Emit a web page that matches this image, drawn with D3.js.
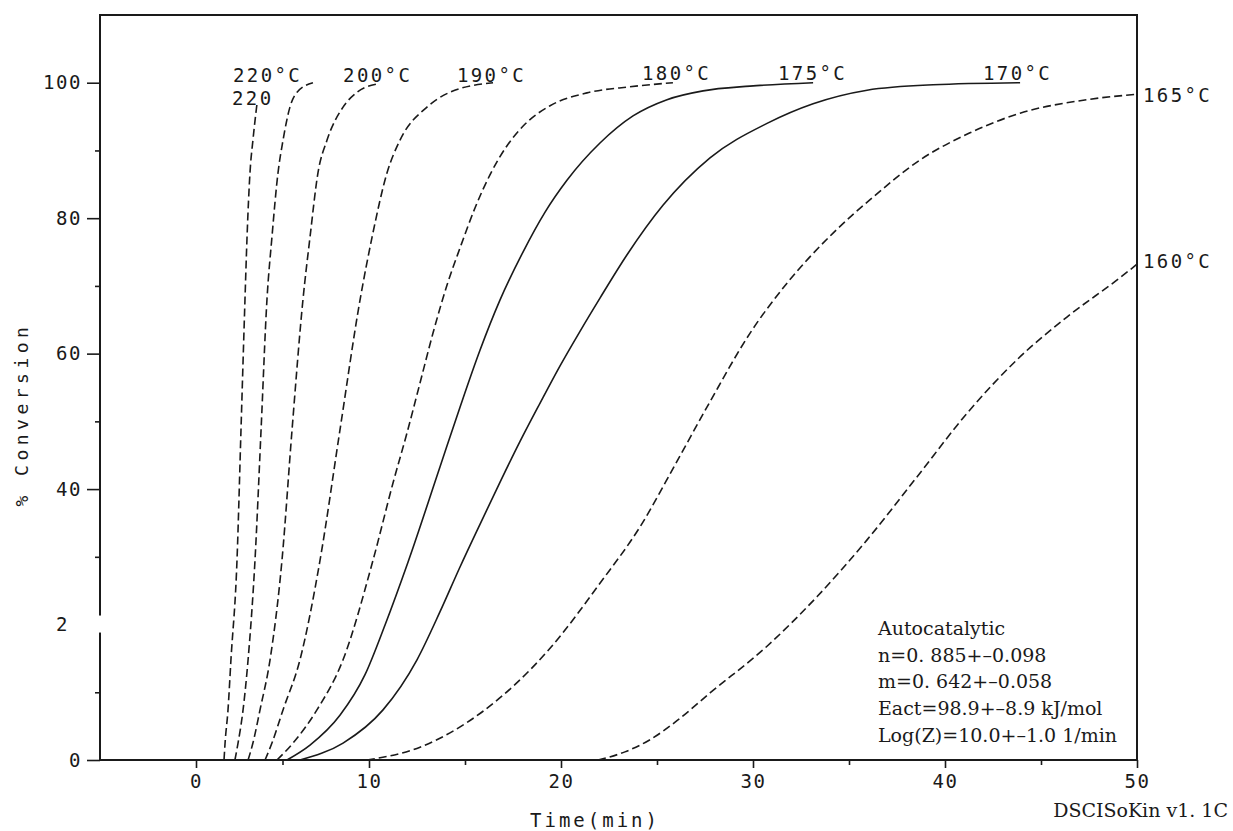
<!DOCTYPE html>
<meta charset="utf-8">
<style>
body {margin: 0; background: #fff;}
text {fill: #1a1a1a;}
.plotter {font-family: "DejaVu Sans Mono", monospace;}
.serif {font-family: "DejaVu Serif", "Liberation Serif", serif; font-size: 19px;}
</style>
<html>
<body>
<script src="https://d3js.org/d3.v7.min.js"></script>
<script>
var width = 1233,
    height = 831;

// isothermal runs, time in min and % conversion
var time220a = [1.62, 1.68, 1.85, 2.02, 2.37, 2.60, 2.83, 2.95, 3.12, 3.29, 3.53];
var conv220a = [0, 2.5, 7.4, 14.8, 29.5, 48.7, 67.9, 77.2, 86.7, 91.5, 97.0];

var time220 = [2.25, 2.43, 2.72, 3.01, 3.41, 3.76, 4.10, 4.39, 4.74, 5.03, 5.43, 5.84, 6.76];
var conv220 = [0, 2.5, 7.4, 14.8, 29.5, 48.7, 67.9, 77.2, 86.7, 91.5, 96.4, 98.6, 100.0];

var time200 = [3.01, 3.29, 3.70, 4.28, 4.97, 5.55, 6.18, 6.59, 7.05, 7.57, 8.50, 9.31, 10.42];
var conv200 = [0, 2.5, 7.4, 14.8, 29.5, 48.7, 67.9, 77.2, 86.7, 91.5, 96.4, 98.6, 99.8];

var time190 = [3.99, 4.39, 5.03, 6.01, 7.17, 8.32, 9.48, 10.16, 10.94, 11.61, 13.02, 14.22, 16.46];
var conv190 = [0, 2.5, 7.4, 14.8, 29.5, 48.7, 67.9, 77.2, 86.7, 91.5, 96.4, 98.6, 100.0];

var time180 = [4.68, 5.61, 6.99, 8.50, 10.21, 11.25, 11.98, 12.66, 13.33, 14.06, 14.74, 15.52, 16.30, 17.19, 18.13, 19.43, 21.35, 23.59, 25.83];
var conv180 = [0, 2.5, 7.4, 14.8, 29.5, 40.9, 48.3, 55.7, 63.0, 70.1, 75.6, 81.5, 86.4, 90.7, 93.9, 96.6, 98.5, 99.4, 100.0];

var time175 = [5.26, 6.59, 8.32, 9.77, 10.83, 12.03, 13.70, 14.74, 15.78, 16.82, 18.02, 19.17, 20.31, 22.03, 23.75, 25.52, 27.40, 29.84, 33.13];
var conv175 = [0, 2.2, 6.6, 12.6, 19.9, 29.2, 43.3, 52.1, 60.5, 67.9, 75.0, 80.9, 85.6, 91.1, 95.1, 97.5, 98.8, 99.5, 100.0];

var time170 = [6.01, 8.50, 10.73, 12.50, 13.70, 14.74, 15.78, 16.82, 17.86, 18.91, 19.95, 20.99, 22.03, 23.44, 25.31, 27.76, 30.73, 33.13, 35.94, 39.38, 43.91];
var conv170 = [0, 2.5, 7.4, 14.8, 21.9, 28.5, 34.8, 41.0, 47.0, 52.7, 58.2, 63.3, 68.2, 74.6, 81.9, 88.9, 94.0, 96.9, 98.9, 99.7, 100.0];

var time165 = [9.88, 12.66, 15.94, 19.43, 22.03, 24.11, 26.04, 27.76, 29.84, 31.77, 34.17, 36.25, 38.70, 41.30, 43.91, 47.40, 50.0];
var conv165 = [0, 1.9, 7.2, 16.5, 26.1, 34.4, 44.1, 52.9, 63.0, 70.4, 77.8, 83.1, 88.6, 92.6, 95.5, 97.5, 98.3];

var time160 = [21.93, 23.33, 24.64, 26.04, 27.76, 30.73, 33.33, 35.94, 38.54, 41.15, 43.75, 46.35, 49.11, 50.0];
var conv160 = [0, 1.2, 3.0, 5.8, 9.9, 16.8, 24.1, 32.5, 41.8, 51.2, 59.1, 65.4, 71.2, 73.2];

var runLabels = ["220", "220°C", "200°C", "190°C", "180°C", "175°C", "170°C", "165°C", "160°C"];
var labelTime = [2.08, 2.14, 8.50, 14.58, 24.22, 31.30, 41.98, 50, 50];
var labelConv = [96.7, 100.1, 100.1, 100.1, 100.4, 100.4, 100.4, 97.2, 72.6];

var xTicks = [0, 10, 20, 30, 40, 50];
var xMinorTicks = [5, 15, 25, 35, 45];
var yTicks = [0, 20, 40, 60, 80, 100];
var yTickLabels = ["0", "2\u00a0", "40", "60", "80", "100"];
var yMinorTicks = [10, 30, 50, 70, 90];

var fitNotes = ["Autocatalytic", "n=0. 885+\u20130.098", "m=0. 642+\u20130.058",
                "Eact=98.9+\u20138.9 kJ/mol", "Log(Z)=10.0+\u20131.0 1/min"];

var runs = [
    [time220a, conv220a], [time220, conv220], [time200, conv200], [time190, conv190],
    [time180, conv180], [time175, conv175], [time170, conv170], [time165, conv165], [time160, conv160]
].map(function(r, i) {
    return {label: runLabels[i], points: r[0].map(function(t, j) { return {t: t, c: r[1][j]}; })};
});

// 175 and 170 were plotted solid, the rest dashed
var solidRuns = ["175°C", "170°C"];

var svg = d3.select("body").append("svg")
    .attr("width", width)
    .attr("height", height);

// the scanned time axis is not quite even, so the scale follows the printed ticks
var x = d3.scaleLinear()
    .domain([-5, 0, 10, 50])
    .range([100, 196, 369, 1137]);

var y = d3.scaleLinear()
    .domain([0, 110])
    .range([760, 15]);

var line = d3.line()
    .x(function(d) { return x(d.t); })
    .y(function(d) { return y(d.c); })
    .curve(d3.curveMonotoneX);

// axes
var gx = svg.append("g")
    .attr("class", "plotter")
    .attr("transform", "translate(0," + y(0) + ")")
    .call(d3.axisBottom(x).tickValues(xTicks).tickSize(8).tickPadding(7));
gx.append("g")
    .call(d3.axisBottom(x).tickValues(xMinorTicks).tickSize(5).tickFormat(""));

var gy = svg.append("g")
    .attr("class", "plotter")
    .attr("transform", "translate(" + x(-5) + ",0)")
    .call(d3.axisLeft(y).tickValues(yTicks).tickSize(13).tickPadding(5)
        .tickFormat(function(d, i) { return yTickLabels[i]; }));
gy.append("g")
    .call(d3.axisLeft(y).tickValues(yMinorTicks).tickSize(5).tickFormat(""));

svg.selectAll(".domain").remove();
svg.selectAll(".tick line").attr("stroke", "#1a1a1a").attr("stroke-width", 1.6);
svg.selectAll(".tick text")
    .style("font-size", "19px")
    .style("letter-spacing", "1.6px")
    .attr("fill", "#1a1a1a");

// plot frame
svg.append("rect")
    .attr("x", x(-5))
    .attr("y", y(110))
    .attr("width", x(50) - x(-5))
    .attr("height", y(0) - y(110))
    .attr("fill", "none")
    .attr("stroke", "#1a1a1a")
    .attr("stroke-width", 2);

// the scan drops the axis line beside the "2"
svg.append("rect")
    .attr("x", x(-5) - 4)
    .attr("y", y(20) - 9)
    .attr("width", 8)
    .attr("height", 17)
    .attr("fill", "#fff");
gy.selectAll(".tick").filter(function(d) { return d === 20; }).select("line").remove();

// curves
svg.selectAll("path.run")
    .data(runs)
    .enter().append("path")
    .attr("class", "run")
    .attr("fill", "none")
    .attr("stroke", "#1a1a1a")
    .attr("stroke-width", 1.6)
    .attr("stroke-dasharray", function(d) { return solidRuns.indexOf(d.label) >= 0 ? null : "8,4"; })
    .attr("d", function(d) { return line(d.points); });

// temperature labels
svg.selectAll("text.runlabel")
    .data(runLabels)
    .enter().append("text")
    .attr("class", "runlabel plotter")
    .attr("x", function(d, i) { return x(labelTime[i]) + (labelTime[i] >= 50 ? 6 : 0); })
    .attr("y", function(d, i) { return y(labelConv[i]); })
    .style("font-size", "19px")
    .style("letter-spacing", "2.4px")
    .text(function(d) { return d; });

// axis titles
svg.append("text")
    .attr("class", "plotter")
    .attr("x", 595)
    .attr("y", 827)
    .attr("text-anchor", "middle")
    .style("font-size", "19px")
    .style("letter-spacing", "3px")
    .text("Time(min)");

svg.append("text")
    .attr("class", "plotter")
    .attr("transform", "translate(28," + y(51) + ") rotate(-90)")
    .attr("text-anchor", "middle")
    .style("font-size", "18px")
    .style("letter-spacing", "4.5px")
    .text("% Conversion");

// fit results box
svg.selectAll("text.note")
    .data(fitNotes)
    .enter().append("text")
    .attr("class", "note serif")
    .attr("x", 878)
    .attr("y", function(d, i) { return 635 + i * 26.7; })
    .text(function(d) { return d; });

svg.append("text")
    .attr("class", "serif")
    .attr("x", 1228)
    .attr("y", 817)
    .attr("text-anchor", "end")
    .text("DSCISoKin v1. 1C");
</script>
</body>
</html>
